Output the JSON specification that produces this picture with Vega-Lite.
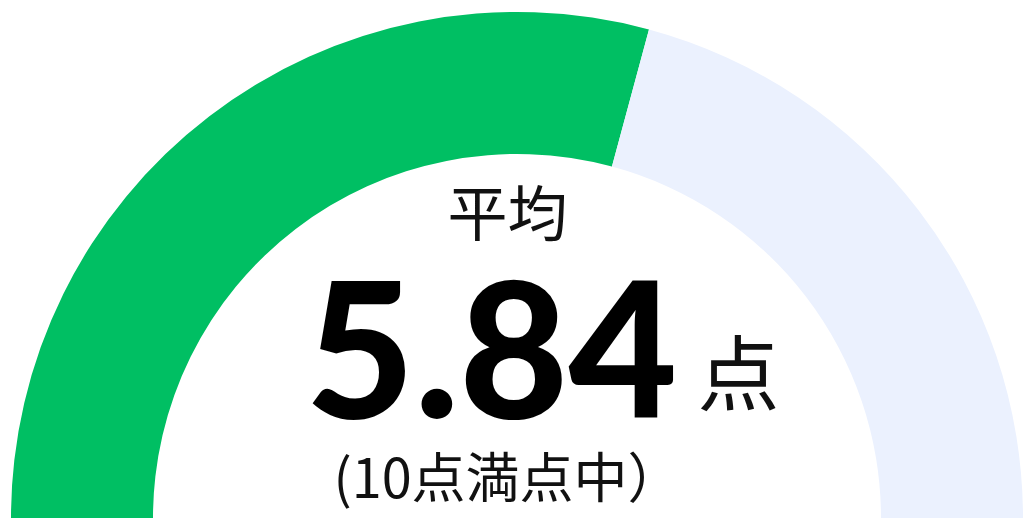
{
  "$schema": "https://vega.github.io/schema/vega-lite/v6.json",
  "width": 1025,
  "height": 518,
  "autosize": {"type": "fit", "contains": "padding"},
  "padding": 0,
  "background": "#ffffff",
  "config": {"view": {"stroke": null}},
  "layer": [
    {
      "data": {"values": [
        {"part": "score", "value": 5.84, "ord": 1},
        {"part": "rest", "value": 4.16, "ord": 2}
      ]},
      "mark": {"type": "arc", "outerRadius": 506, "innerRadius": 364, "x": {"expr": "width/2 + 4.5"}, "y": {"expr": "height"}},
      "encoding": {
        "theta": {"field": "value", "type": "quantitative", "stack": true, "scale": {"range": [-1.5707963, 1.5707963]}},
        "order": {"field": "ord", "type": "quantitative"},
        "color": {"field": "part", "type": "nominal", "scale": {"domain": ["score", "rest"], "range": ["#00bf63", "#ebf1fe"]}, "legend": null}
      }
    },
    {
      "data": {"values": [{"t": "平均"}]},
      "mark": {"type": "text", "font": "Noto Sans CJK JP", "fontSize": 60, "color": "#111111", "align": "center", "baseline": "middle", "x": {"expr": "width/2 - 5"}, "y": {"expr": "height - 300"}},
      "encoding": {"text": {"field": "t"}}
    },
    {
      "data": {"values": [{"t": "5.84"}]},
      "mark": {"type": "text", "font": "Lato", "fontWeight": 900, "fontSize": 188, "color": "#000000", "align": "center", "baseline": "alphabetic", "x": {"expr": "width/2 - 21"}, "y": {"expr": "height - 100"}},
      "encoding": {"text": {"field": "t"}}
    },
    {
      "data": {"values": [{"t": "点"}]},
      "mark": {"type": "text", "font": "Noto Sans CJK JP", "fontSize": 82, "color": "#111111", "align": "center", "baseline": "middle", "x": {"expr": "width/2 + 226"}, "y": {"expr": "height - 139"}},
      "encoding": {"text": {"field": "t"}}
    },
    {
      "data": {"values": [{"t": "(10点満点中）"}]},
      "mark": {"type": "text", "font": "Noto Sans CJK JP", "fontSize": 54, "color": "#111111", "align": "center", "baseline": "middle", "x": {"expr": "width/2 - 5"}, "y": {"expr": "height - 36"}},
      "encoding": {"text": {"field": "t"}}
    }
  ]
}
